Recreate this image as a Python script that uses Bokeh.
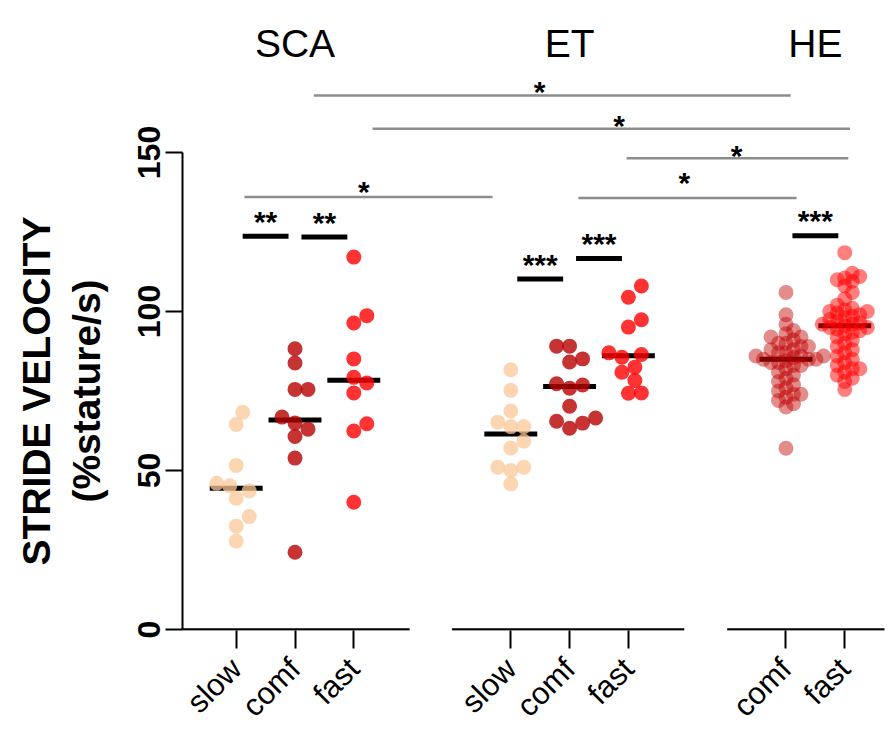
import math
import numpy as np
from bokeh.plotting import figure
from bokeh.layouts import row
from bokeh.models import FixedTicker, Range1d, CustomJSTickFormatter
from bokeh.core.properties import value
from bokeh.embed import file_html
from bokeh.resources import INLINE

# ---------------- data ----------------
groups = ["SCA", "ET", "HE"]
tick_labels = ["slow", "comf", "fast", "slow", "comf", "fast", "comf", "fast"]
tick_groups = ["SCA", "SCA", "SCA", "ET", "ET", "ET", "HE", "HE"]

sca_slow = [68.3, 64.5, 51.6, 46.0, 45.2, 43.6, 41.3, 35.5, 32.5, 27.8]
sca_comf = [88.3, 83.8, 75.5, 75.5, 66.8, 64.9, 63.0, 60.7, 53.9, 24.3]
sca_fast = [117.1, 98.7, 96.4, 85.1, 79.3, 77.5, 74.4, 64.7, 62.4, 40.0]

et_slow = [81.7, 75.2, 68.7, 65.2, 63.8, 63.8, 59.2, 57.1, 51.0, 51.0, 50.0, 45.8]
et_comf = [89.1, 89.1, 85.1, 84.1, 77.3, 76.9, 75.9, 70.2, 66.5, 65.5, 64.9, 63.3]
et_fast = [108.0, 104.5, 97.4, 95.1, 87.0, 86.5, 85.6, 82.5, 80.9, 78.3, 74.4, 74.3]

he_comf = [106, 99, 96, 94, 93, 92, 92, 91, 90, 90, 89, 89, 88, 88, 87, 87, 86, 86,
           86, 85.5, 85, 85, 85, 84.5, 84, 84, 83, 83, 82, 81, 80, 79, 78, 77, 76, 75,
           74, 74, 73, 72, 71, 70, 57]
he_fast = [118.5, 112, 111, 110.5, 110, 109.5, 108, 106, 104, 102, 101, 100.5, 100, 100,
           99.5, 99, 98.5, 98, 97.5, 97, 96.5, 96, 96, 95.5, 95, 95, 94.5, 94, 93.5, 93,
           92, 91, 90, 89, 88, 87, 86, 85, 84, 83, 82, 82, 81, 80, 79, 78, 75.5]

series = [sca_slow, sca_comf, sca_fast, et_slow, et_comf, et_fast, he_comf, he_fast]

# within-group comparisons (index pairs into series), level, stars
pair_a = [0, 1, 3, 4, 6]
pair_b = [1, 2, 4, 5, 7]
pair_level = [123.7, 123.4, 110.2, 116.7, 123.8]
pair_stars = ["**", "**", "***", "***", "***"]

# between-group comparisons (grey brackets)
br_x0 = [1.32, 2.32, 6.64, 5.82, 0.14]
br_x1 = [9.43, 10.44, 10.41, 9.53, 4.36]
br_level = [167.9, 157.5, 148.2, 135.7, 136.0]
br_star_x = [5.16, 6.51, 8.51, 7.62, 2.17]
br_star_level = [171.4, 160.7, 151.4, 142.8, 139.9]
br_stars = ["*", "*", "*", "*", "*"]

y_title_lines = ["STRIDE VELOCITY", "(%stature/s)"]

# ---------------- layout ----------------
PX_X = 58.8      # px per category slot
PX_Y = 3.18      # px per y unit
LEFT_W = 110     # width of the strip holding the y-axis title
FRAME_H = 630    # frame height shared by both figures (frames are aligned in the row)
group_first = {"SCA": 0.0, "ET": 4.67, "HE": 9.35}
cat_pos = []
_cnt = {}
for g in tick_groups:
    cat_pos.append(group_first[g] + _cnt.get(g, 0))
    _cnt[g] = _cnt.get(g, 0) + 1

fill_cols = ["#FBC898", "#B80000", "#FF0000", "#FBC898", "#B80000", "#FF0000", "#C00000", "#FF0000"]
fill_alpha = [0.75, 0.8, 0.8, 0.75, 0.8, 0.8, 0.45, 0.5]
swarm_d = [13, 13, 13, 13, 13, 13, 7.5, 7.5]


def swarm(vals, d):
    vals = np.asarray(vals, float)
    step = d / 2.0
    order = np.argsort(vals)
    placed = []
    offs = np.zeros(len(vals))
    cands = [0.0]
    for k in range(1, 60):
        cands += [k * step, -k * step]
    for i in order:
        y = vals[i] * PX_Y
        for c in cands:
            if all((c - px) ** 2 + (y - py) ** 2 >= d * d - 1e-6 for px, py in placed):
                break
        placed.append((c, y))
        offs[i] = c
    return offs / PX_X


FONT = "Liberation Sans"

# ---- left strip: y-axis title (centred on the 0-150 span of the axis) ----
t = figure(width=LEFT_W, height=740, output_backend="svg", toolbar_location=None,
           x_range=Range1d(0, LEFT_W), y_range=Range1d(FRAME_H, 0),
           x_axis_location=None, y_axis_location=None,
           min_border_left=0, min_border_right=0, min_border_top=0,
           min_border_bottom=740 - FRAME_H, title=None)
t.xgrid.visible = False
t.ygrid.visible = False
t.outline_line_color = None
t.text(x=[36, 86], y=[390.5, 390.5], text=y_title_lines, angle=math.pi / 2,
       text_font=value(FONT), text_font_style="bold", text_font_size="39px",
       text_align="center", text_baseline="middle", text_color="black")

# ---- main plot ----
x_start = (182 - 235.7) / PX_X
x_end = x_start + 702 / PX_X
y_start = -1 / PX_Y
y_end = 629 / PX_Y

p = figure(width=891 - LEFT_W, height=740, output_backend="svg", toolbar_location=None,
           x_range=Range1d(x_start, x_end), y_range=Range1d(y_start, y_end),
           min_border_left=182 - LEFT_W, min_border_right=7, min_border_top=0,
           min_border_bottom=740 - FRAME_H, title=None)
p.xgrid.visible = False
p.ygrid.visible = False
p.outline_line_color = None
p.background_fill_color = "white"

# y axis
ya = p.yaxis[0]
ya.bounds = (0, 150)
ya.ticker = FixedTicker(ticks=[0, 50, 100, 150])
ya.axis_line_width = 2
ya.axis_line_color = "black"
ya.major_tick_line_width = 2
ya.major_tick_out = 17
ya.major_tick_in = 0
ya.minor_tick_line_color = None
ya.major_label_orientation = "vertical"
ya.major_label_text_font = FONT
ya.major_label_text_font_style = "bold"
ya.major_label_text_font_size = "32px"
ya.major_label_text_color = "black"
ya.major_label_standoff = 6

# x axis (ticks + labels from Bokeh, baseline broken into segments below)
xa = p.xaxis[0]
xa.ticker = FixedTicker(ticks=cat_pos)
xa.formatter = CustomJSTickFormatter(args=dict(pos=cat_pos, labs=tick_labels), code="""
let best = 0;
for (let i = 0; i < pos.length; i++) {
  if (Math.abs(pos[i] - tick) < Math.abs(pos[best] - tick)) best = i;
}
return labs[best];
""")
xa.axis_line_color = None
xa.major_tick_out = 18
xa.major_tick_in = 0
xa.major_tick_line_width = 2
xa.major_tick_line_color = "black"
xa.minor_tick_line_color = None
xa.major_label_orientation = math.pi / 4
xa.major_label_text_font = FONT
xa.major_label_text_font_size = "31px"
xa.major_label_text_color = "black"
xa.major_label_standoff = 15

# broken baseline
seg_x0, seg_x1 = [], []
for g in groups:
    ps = [cat_pos[i] for i in range(len(cat_pos)) if tick_groups[i] == g]
    seg_x0.append(min(ps) - 1.0)
    seg_x1.append(max(ps) + 0.95)
p.segment(x0=seg_x0, y0=[0] * 3, x1=seg_x1, y1=[0] * 3, line_color="black", line_width=2.5)

# medians
med = [float(np.median(s)) for s in series]
p.segment(x0=[c - 0.45 for c in cat_pos], y0=med, x1=[c + 0.45 for c in cat_pos], y1=med,
          line_color="black", line_width=5, line_cap="butt")

# points
for i, s in enumerate(series):
    offs = swarm(s, swarm_d[i])
    p.scatter(x=[cat_pos[i] + o for o in offs], y=s, size=15, marker="circle",
              fill_color=fill_cols[i], fill_alpha=fill_alpha[i], line_color=None)

STAR_SIZE = "30px"
STAR_SHIFT = 7 / PX_Y   # asterisk sits above the middle of the em box

# within-group significance bars
bx0, bx1, sx = [], [], []
for a, b in zip(pair_a, pair_b):
    mid = (cat_pos[a] + cat_pos[b]) / 2
    bx0.append(mid - 0.39)
    bx1.append(mid + 0.39)
    sx.append(mid)
p.segment(x0=bx0, y0=pair_level, x1=bx1, y1=pair_level, line_color="black", line_width=5,
          line_cap="butt")
p.text(x=sx, y=[lv + 22 / PX_Y - STAR_SHIFT for lv in pair_level], text=pair_stars,
       text_font=value(FONT), text_font_size=STAR_SIZE, text_font_style="bold",
       text_align="center", text_baseline="middle", text_color="black")

# between-group grey brackets
p.segment(x0=br_x0, y0=br_level, x1=br_x1, y1=br_level, line_color="#8C8C8C", line_width=2.5)
p.text(x=br_star_x, y=[s - STAR_SHIFT for s in br_star_level],
       text=br_stars, text_font=value(FONT), text_font_size=STAR_SIZE, text_font_style="bold",
       text_align="center", text_baseline="middle", text_color="black")

# group titles
gx = []
for g in groups:
    ps = [cat_pos[i] for i in range(len(cat_pos)) if tick_groups[i] == g]
    gx.append(sum(ps) / len(ps))
p.text(x=gx, y=[(629 - 43.3) / PX_Y] * 3, text=groups, text_font=value(FONT),
       text_font_size="39px", text_align="center", text_baseline="alphabetic", text_color="black")

layout = row(t, p, spacing=0)
open("out.html", "w").write(file_html(layout, INLINE))
